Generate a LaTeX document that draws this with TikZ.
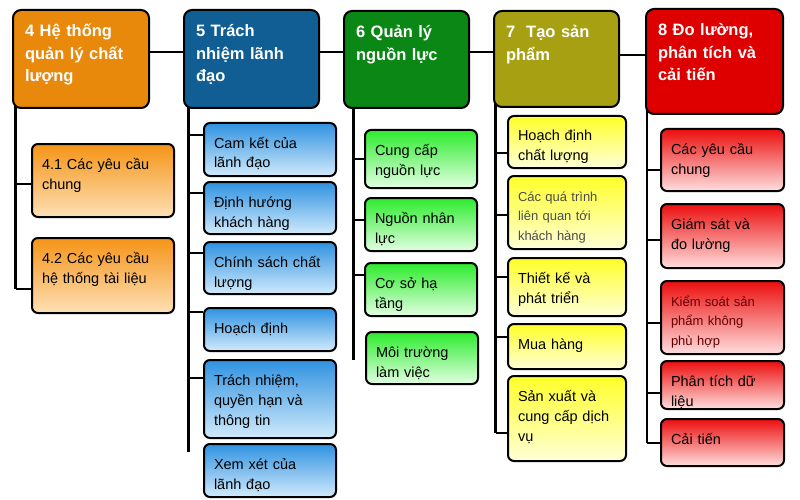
\documentclass[tikz,border=0pt]{standalone}
\usepackage{fontspec}
\setmainfont{Liberation Sans}
\usetikzlibrary{backgrounds}

\definecolor{orHead}{RGB}{232,137,12}
\definecolor{orTop}{RGB}{245,148,22}
\definecolor{orBot}{RGB}{253,224,182}
\definecolor{blHead}{RGB}{16,94,148}
\definecolor{blTop}{RGB}{48,146,225}
\definecolor{blBot}{RGB}{208,234,251}
\definecolor{grHead}{RGB}{10,135,20}
\definecolor{grTop}{RGB}{45,235,45}
\definecolor{grBot}{RGB}{226,255,226}
\definecolor{olHead}{RGB}{166,160,18}
\definecolor{olTop}{RGB}{255,255,40}
\definecolor{olBot}{RGB}{255,255,216}
\definecolor{rdHead}{RGB}{222,0,0}
\definecolor{rdTop}{RGB}{236,14,14}
\definecolor{rdBot}{RGB}{255,222,222}

\begin{document}
\begin{tikzpicture}[x=1pt,y=-1pt,
  head/.style={draw=black,line width=2pt,rounded corners=8pt,anchor=north west,
    inner xsep=12pt,inner ysep=7pt,text height=20pt,text=white,align=left,
    font=\fontsize{16.5}{22.5}\selectfont\bfseries},
  sub/.style={draw=black,line width=2pt,rounded corners=6pt,anchor=north west,
    inner xsep=10pt,inner ysep=5pt,text height=20pt,align=left,
    font=\fontsize{14.5}{20}\selectfont},
  small/.style={font=\fontsize{13}{19.5}\selectfont},
  headh/.code={\pgfmathsetmacro\boxdp{#1-34}\pgfkeysalso{text depth=\boxdp pt}},
  subh/.code={\pgfmathsetmacro\boxdp{#1-30}\pgfkeysalso{text depth=\boxdp pt}},
  link/.style={line width=2.4pt},
  col4/.style={top color=orTop,bottom color=orBot,text width=122pt},
  col5/.style={top color=blTop,bottom color=blBot,text width=112pt},
  col6/.style={top color=grTop,bottom color=grBot,text width=92pt},
  col7/.style={top color=olTop,bottom color=olBot,text width=98pt},
  col8/.style={top color=rdTop,bottom color=rdBot,text width=103pt}]
  \useasboundingbox (0,0) rectangle (800,500);

  % main clauses
  \node[head,fill=orHead,text width=112pt,headh=98] (h4) at (12,9) {4 Hệ thống\\quản lý chất\\lượng};
  \node[head,fill=blHead,text width=111pt,headh=98] (h5) at (183,9) {5 Trách\\nhiệm lãnh\\đạo};
  \node[head,fill=grHead,text width=101pt,headh=97] (h6) at (343,10) {6 Quản lý\\nguồn lực};
  \node[head,fill=olHead,text width=101pt,headh=96] (h7) at (493,10) {7 \ Tạo sản\\phẩm};
  \node[head,fill=rdHead,text width=113pt,headh=105] (h8) at (645,8) {8 Đo lường,\\phân tích và\\cải tiến};

  % clause 4
  \node[sub,col4,subh=73] (s41) at (31,143) {4.1 Các yêu cầu\\chung};
  \node[sub,col4,subh=75] (s42) at (31,237) {4.2 Các yêu cầu\\hệ thống tài liệu};

  % clause 5
  \node[sub,col5,subh=53] (s51) at (203,122) {Cam kết của\\lãnh đạo};
  \node[sub,col5,subh=52] (s52) at (203,181) {Định hướng\\khách hàng};
  \node[sub,col5,subh=52] (s53) at (203,241) {Chính sách chất\\lượng};
  \node[sub,col5,subh=43] (s54) at (203,307) {Hoạch định};
  \node[sub,col5,subh=78] (s55) at (203,359) {Trách nhiệm,\\quyền hạn và\\thông tin};
  \node[sub,col5,subh=53] (s56) at (203,443) {Xem xét của\\lãnh đạo};

  % clause 6
  \node[sub,col6,subh=58] (s61) at (364,129) {Cung cấp\\nguồn lực};
  \node[sub,col6,subh=53] (s62) at (364,197) {Nguồn nhân\\lực};
  \node[sub,col6,subh=53] (s63) at (364,262) {Cơ sở hạ\\tầng};
  \node[sub,col6,subh=52] (s64) at (365,331) {Môi trường\\làm việc};

  % clause 7
  \node[sub,col7,subh=52] (s71) at (507,115) {Hoạch định\\chất lượng};
  \node[sub,col7,small,text=black!70,subh=73] (s72) at (507,175) {Các quá trình\\liên quan tới\\khách hàng};
  \node[sub,col7,subh=58] (s73) at (507,257) {Thiết kế và\\phát triển};
  \node[sub,col7,subh=45] (s74) at (507,323) {Mua hàng};
  \node[sub,col7,subh=85] (s75) at (507,375) {Sản xuất và\\cung cấp dịch\\vụ};

  % clause 8
  \node[sub,col8,subh=62] (s81) at (660,128) {Các yêu cầu\\chung};
  \node[sub,col8,subh=64] (s82) at (660,203) {Giám sát và\\đo lường};
  \node[sub,col8,small,text=red!40!black,subh=73] (s83) at (660,280) {Kiểm soát sản\\phẩm không\\phù hợp};
  \node[sub,col8,subh=48] (s84) at (660,360) {Phân tích dữ\\liệu};
  \node[sub,col8,subh=47] (s85) at (660,418) {Cải tiến};

  \begin{scope}[on background layer]
    \fill[white] (0,0) rectangle (800,500);
    % header chain
    \draw[link] (h4.east |- 0,52) -- (h5.west |- 0,52);
    \draw[link] (h5.east |- 0,52) -- (h6.west |- 0,52);
    \draw[link] (h6.east |- 0,52) -- (h7.west |- 0,52);
    \draw[link] (h7.east |- 0,55) -- (h8.west |- 0,55);

    % trunks and branches
    \coordinate (v4) at ([xshift=3.5pt,yshift=10pt]h4.south west);
    \draw[link] (v4) -- (v4 |- 0,289);
    \foreach \n/\y in {s41/184,s42/289}
      \draw[link] (v4 |- 0,\y) -- (\n.west |- 0,\y);

    \coordinate (v5) at ([xshift=5.5pt,yshift=10pt]h5.south west);
    \draw[link] (v5) -- (v5 |- 0,452);
    \foreach \n/\y in {s51/135,s52/193,s53/253,s54/312,s55/378}
      \draw[link] (v5 |- 0,\y) -- (\n.west |- 0,\y);

    \coordinate (v6) at ([xshift=10.5pt,yshift=10pt]h6.south west);
    \draw[link] (v6) -- (v6 |- 0,360);
    \foreach \n/\y in {s61/159,s62/220,s63/275}
      \draw[link] (v6 |- 0,\y) -- (\n.west |- 0,\y);

    \coordinate (v7) at ([xshift=2.5pt,yshift=10pt]h7.south west);
    \draw[link] (v7) -- (v7 |- 0,433);
    \foreach \n/\y in {s71/153,s72/215,s73/277,s74/337,s75/433}
      \draw[link] (v7 |- 0,\y) -- (\n.west |- 0,\y);

    \coordinate (v8) at ([xshift=2pt,yshift=10pt]h8.south west);
    \draw[link] (v8) -- (v8 |- 0,443);
    \foreach \n/\y in {s81/170,s82/240,s83/323,s84/393,s85/443}
      \draw[link] (v8 |- 0,\y) -- (\n.west |- 0,\y);
  \end{scope}
\end{tikzpicture}
\end{document}
